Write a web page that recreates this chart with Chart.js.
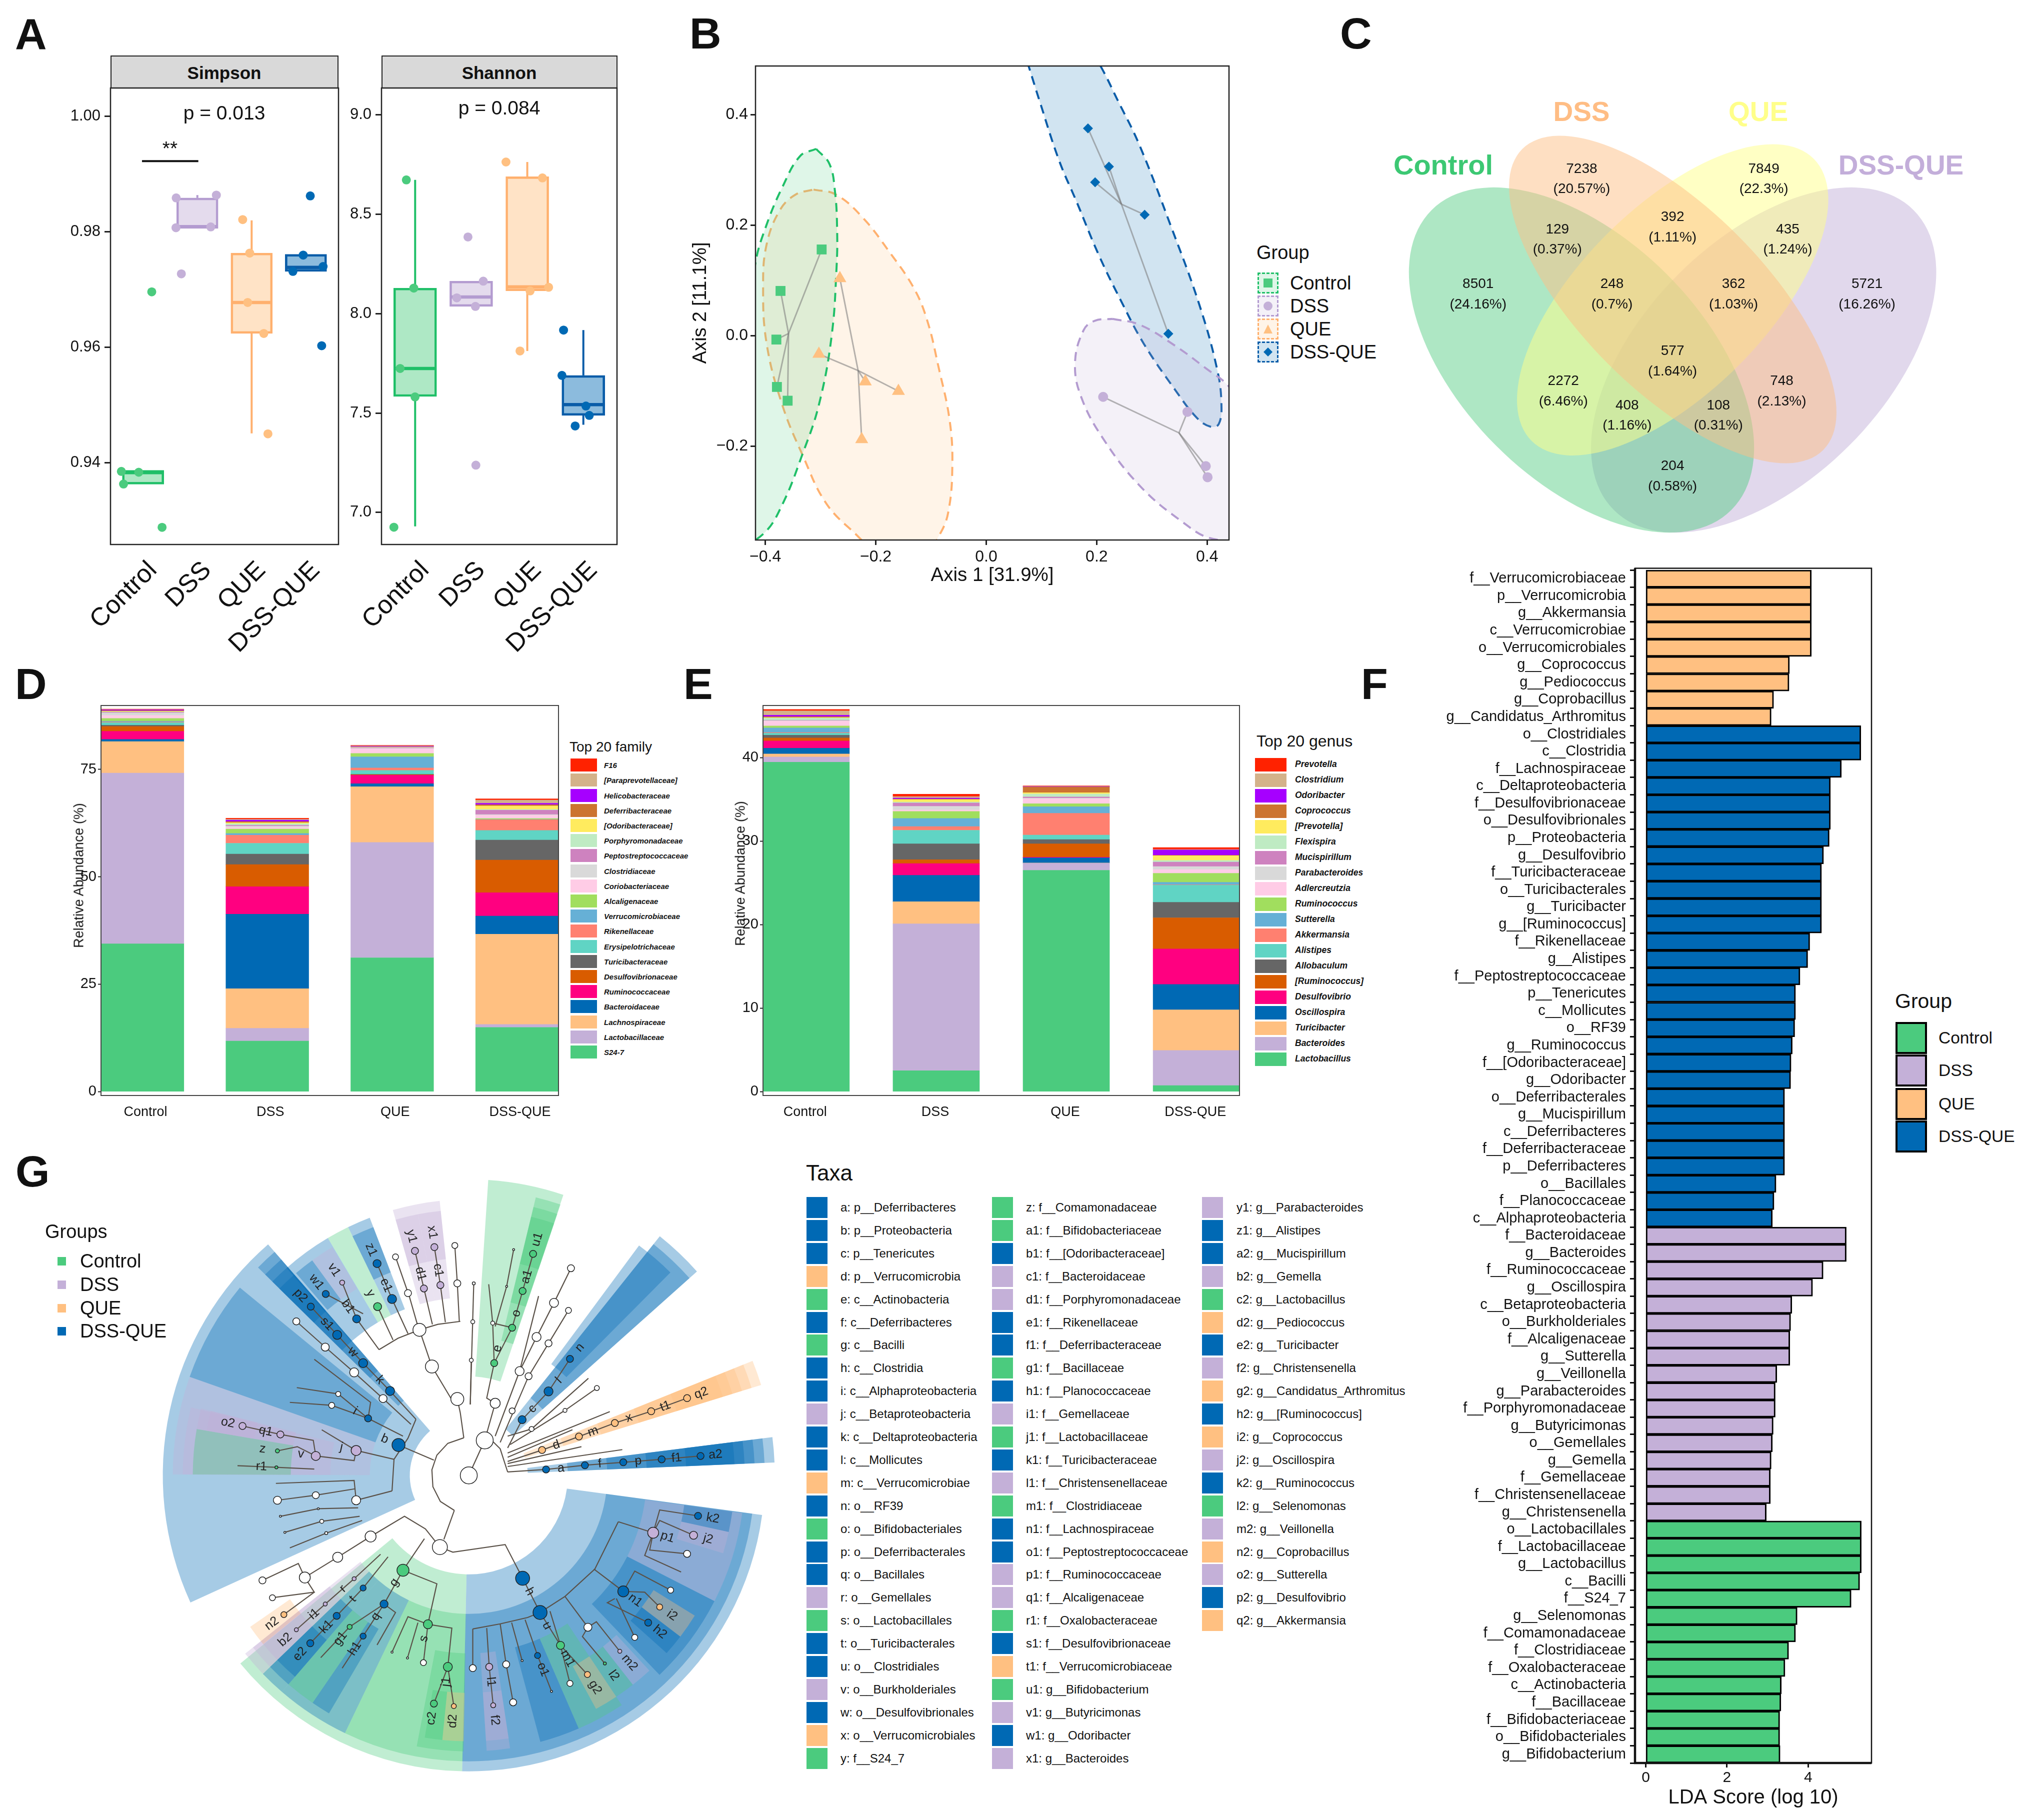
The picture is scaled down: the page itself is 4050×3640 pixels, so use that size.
<!DOCTYPE html>
<html>
<head>
<meta charset="utf-8">
<title>Gut microbiota panels</title>
<script src="https://cdn.jsdelivr.net/npm/chart.js@4"></script>
<style>
html, body { margin: 0; background: #fff; }
#page { position: relative; width: 4050px; height: 3640px; overflow: hidden; font-family: "Liberation Sans", Arial, sans-serif; color: #111; }
canvas { position: absolute; }
.t { position: absolute; white-space: pre; line-height: 1; }
.k { position: absolute; box-sizing: border-box; }
</style>
</head>
<body>
<div id="page"></div>
<script>
const groups = ['Control', 'DSS', 'QUE', 'DSS-QUE'];
const groupColors = ['#4BCB7E', '#C4B0D8', '#FFC081', '#0069B4'];
const groupEdges = ['#1FBF68', '#B39BD0', '#FFB06E', '#0A5CA8'];

// Panel A
const simpsonTicks = [0.94, 0.96, 0.98, 1.00];
const simpsonQ1 = [0.9363, 0.98057, 0.9624, 0.97314];
const simpsonQ3 = [0.9387, 0.98587, 0.97632, 0.97611];
const simpsonMedian = [0.9383, 0.9809, 0.96777, 0.97385];
const simpsonLow = [null, null, 0.94509, null];
const simpsonHigh = [null, 0.98636, 0.98198, null];
const simpsonX = [[0.6, 0.92, 0.64, 1.35, 1.16], [1.61, 2.35, 1.606, 2.247, 1.705], [2.835, 2.965, 2.927, 3.224, 3.3], [4.08, 3.95, 4.316, 3.76, 4.29]];
const simpsonY = [[0.93852, 0.93837, 0.93633, 0.92883, 0.96961], [0.98587, 0.98636, 0.98071, 0.98085, 0.97272], [0.98212, 0.97632, 0.96777, 0.9624, 0.94502], [0.98622, 0.97597, 0.97399, 0.97314, 0.96028]];
const shannonTicks = [7.0, 7.5, 8.0, 8.5, 9.0];
const shannonQ1 = [7.583, 8.036, 8.114, 7.488];
const shannonQ3 = [8.128, 8.163, 8.688, 7.689];
const shannonMedian = [7.724, 8.083, 8.134, 7.542];
const shannonLow = [6.93, null, 7.812, 7.441];
const shannonHigh = [8.672, null, 8.762, 7.917];
const shannonX = [[0.843, 0.976, 0.732, 0.998, 0.621], [1.942, 2.215, 1.743, 2.075, 2.083], [2.62, 3.27, 3.38, 3.05, 2.87], [3.647, 3.618, 4.046, 4.105, 3.854]];
const shannonY = [[8.672, 8.128, 7.724, 7.581, 6.926], [8.385, 8.163, 8.079, 8.036, 7.238], [8.762, 8.682, 8.132, 8.114, 7.812], [7.917, 7.689, 7.535, 7.488, 7.435]];

// Panel B
const pcoaX = [[-0.298, -0.3725, -0.38, -0.379, -0.3596], [0.2117, 0.3644, 0.3976, 0.4008], [-0.265, -0.303, -0.219, -0.159, -0.2255], [0.1842, 0.2222, 0.1972, 0.2869, 0.3297]];
const pcoaY = [[0.156, 0.081, -0.007, -0.0927, -0.1176], [-0.1107, -0.1377, -0.236, -0.256], [0.1038, -0.0332, -0.083, -0.1003, -0.1875], [0.3751, 0.3059, 0.2775, 0.2187, 0.0035]];
const pcoaCenterX = [-0.358, 0.349, -0.232, 0.2448];
const pcoaCenterY = [0.004, -0.1758, -0.063, 0.238];
const ringControlX = [-0.308, -0.284, -0.274, -0.27, -0.271, -0.28, -0.303, -0.333, -0.369, -0.403, -0.442, -0.462, -0.458, -0.418, -0.398, -0.369, -0.337, -0.308];
const ringControlY = [0.338, 0.311, 0.262, 0.193, 0.124, -0.001, -0.125, -0.215, -0.305, -0.358, -0.374, -0.326, -0.153, 0.131, 0.2, 0.269, 0.325, 0.338];
const ringQueX = [-0.3127, -0.2723, -0.2238, -0.1754, -0.1309, -0.1067, -0.0865, -0.0663, -0.0614, -0.0687, -0.0848, -0.1269, -0.1834, -0.2279, -0.2885, -0.3329, -0.3693, -0.3976, -0.404, -0.3976, -0.3733, -0.345, -0.3127];
const ringQueY = [0.2644, 0.2554, 0.2138, 0.1516, 0.0858, 0.027, -0.0561, -0.1529, -0.236, -0.319, -0.3606, -0.4228, -0.4159, -0.3675, -0.3052, -0.2152, -0.1253, -0.0145, 0.0893, 0.1654, 0.2277, 0.2554, 0.2644];
const ringDssQueX = [0.0776, 0.059, 0.0752, 0.1236, 0.1721, 0.2085, 0.2368, 0.2772, 0.3337, 0.3863, 0.4186, 0.4259, 0.421, 0.4065, 0.3822, 0.3418, 0.2853, 0.2448, 0.2044, 0.164, 0.1317, 0.0954, 0.0776];
const ringDssQueY = [0.4851, 0.546, 0.5875, 0.5945, 0.546, 0.4851, 0.4284, 0.3453, 0.2, 0.0547, -0.063, -0.1253, -0.1599, -0.1647, -0.1495, -0.0976, -0.0145, 0.0616, 0.1446, 0.2415, 0.3176, 0.4284, 0.4851];
const ringDssX = [0.2287, 0.2772, 0.3418, 0.3984, 0.4396, 0.4792, 0.4954, 0.4792, 0.4105, 0.3499, 0.2772, 0.2125, 0.1721, 0.1608, 0.1762, 0.1964, 0.2287];
const ringDssY = [0.0304, 0.0201, -0.018, -0.0595, -0.092, -0.1529, -0.2637, -0.3606, -0.3675, -0.3329, -0.2706, -0.1875, -0.1114, -0.0491, 0.0097, 0.027, 0.0304];

// Panel C
const vennCounts = ['7238', '7849', '392', '129', '435', '8501', '248', '362', '5721', '577', '2272', '748', '408', '108', '204'];
const vennPercents = ['(20.57%)', '(22.3%)', '(1.11%)', '(0.37%)', '(1.24%)', '(24.16%)', '(0.7%)', '(1.03%)', '(16.26%)', '(1.64%)', '(6.46%)', '(2.13%)', '(1.16%)', '(0.31%)', '(0.58%)'];

// Panel D, bottom of the stack first
const familyNames = ['S24-7', 'Lactobacillaceae', 'Lachnospiraceae', 'Bacteroidaceae', 'Ruminococcaceae', 'Desulfovibrionaceae', 'Turicibacteraceae', 'Erysipelotrichaceae', 'Rikenellaceae', 'Verrucomicrobiaceae', 'Alcaligenaceae', 'Coriobacteriaceae', 'Clostridiaceae', 'Peptostreptococcaceae', 'Porphyromonadaceae', '[Odoribacteraceae]', 'Deferribacteraceae', 'Helicobacteraceae', '[Paraprevotellaceae]', 'F16'];
const familyControl = [34.4, 39.75, 7.33, 0.49, 1.9, 1.13, 0.28, 0.63, 0.15, 0.15, 0.65, 0.7, 0.6, 0.15, 0.1, 0.1, 0.15, 0.2, 0.1, 0.1];
const familyDss = [11.77, 2.96, 9.23, 17.34, 6.4, 5.15, 2.45, 2.5, 1.9, 0.4, 1.0, 0.4, 0.3, 0.2, 0.35, 0.25, 0.25, 0.35, 0.2, 0.24];
const familyQue = [31.15, 26.85, 12.97, 0.7, 1.97, 0.14, 0.07, 0.92, 0.56, 2.61, 0.78, 1.06, 0.14, 0.14, 0.07, 0.07, 0.07, 0.14, 0.07, 0.14];
const familyDssQue = [14.94, 0.7, 21.01, 4.22, 5.43, 7.6, 4.66, 2.24, 2.48, 0.07, 0.21, 0.78, 0.14, 1.02, 0.18, 0.82, 0.3, 0.3, 0.76, 0.29];
const stackColors = ['#4BCB7E', '#C4B0D8', '#FFC081', '#0069B4', '#FF0080', '#D95C00', '#666666', '#60D4C4', '#FF8070', '#66B0D6', '#A1DE5E', '#FFCCE6', '#D9D9D9', '#CE82BF', '#BFEBC3', '#FFEB5E', '#CC7430', '#A600FF', '#D4B28A', '#FF2200'];

// Panel E, bottom of the stack first
const genusNames = ['Lactobacillus', 'Bacteroides', 'Turicibacter', 'Oscillospira', 'Desulfovibrio', '[Ruminococcus]', 'Allobaculum', 'Alistipes', 'Akkermansia', 'Sutterella', 'Ruminococcus', 'Adlercreutzia', 'Parabacteroides', 'Mucispirillum', 'Flexispira', '[Prevotella]', 'Coprococcus', 'Odoribacter', 'Clostridium', 'Prevotella'];
const genusControl = [39.46, 0.62, 0.36, 0.69, 0.87, 0.36, 0.33, 0.24, 0.07, 0.56, 0.24, 0.56, 0.06, 0.05, 0.29, 0.04, 0.1, 0.18, 0.52, 0.17];
const genusDss = [2.5, 17.59, 2.65, 3.16, 1.41, 0.47, 1.89, 1.63, 0.44, 0.98, 0.83, 0.18, 0.44, 0.4, 0.11, 0.29, 0.07, 0.11, 0.18, 0.29];
const genusQue = [26.51, 0.84, 0.03, 0.62, 0.07, 1.6, 0.51, 0.54, 2.61, 0.8, 0.36, 0.58, 0.07, 0.15, 0.36, 0.15, 0.69, 0.04, 0.04, 0.06];
const genusDssQue = [0.73, 4.2, 4.86, 3.05, 4.24, 3.74, 1.85, 2.07, 0.04, 0.28, 1.09, 0.44, 0.36, 0.54, 0.19, 0.58, 0.04, 0.64, 0.06, 0.23];

// Panel F
const ldaLabels = ['f__Verrucomicrobiaceae', 'p__Verrucomicrobia', 'g__Akkermansia', 'c__Verrucomicrobiae', 'o__Verrucomicrobiales', 'g__Coprococcus', 'g__Pediococcus', 'g__Coprobacillus', 'g__Candidatus_Arthromitus',
  'o__Clostridiales', 'c__Clostridia', 'f__Lachnospiraceae', 'c__Deltaproteobacteria', 'f__Desulfovibrionaceae', 'o__Desulfovibrionales', 'p__Proteobacteria', 'g__Desulfovibrio', 'f__Turicibacteraceae', 'o__Turicibacterales', 'g__Turicibacter', 'g__[Ruminococcus]', 'f__Rikenellaceae', 'g__Alistipes', 'f__Peptostreptococcaceae', 'p__Tenericutes', 'c__Mollicutes', 'o__RF39', 'g__Ruminococcus', 'f__[Odoribacteraceae]', 'g__Odoribacter', 'o__Deferribacterales', 'g__Mucispirillum', 'c__Deferribacteres', 'f__Deferribacteraceae', 'p__Deferribacteres', 'o__Bacillales', 'f__Planococcaceae', 'c__Alphaproteobacteria',
  'f__Bacteroidaceae', 'g__Bacteroides', 'f__Ruminococcaceae', 'g__Oscillospira', 'c__Betaproteobacteria', 'o__Burkholderiales', 'f__Alcaligenaceae', 'g__Sutterella', 'g__Veillonella', 'g__Parabacteroides', 'f__Porphyromonadaceae', 'g__Butyricimonas', 'o__Gemellales', 'g__Gemella', 'f__Gemellaceae', 'f__Christensenellaceae', 'g__Christensenella',
  'o__Lactobacillales', 'f__Lactobacillaceae', 'g__Lactobacillus', 'c__Bacilli', 'f__S24_7', 'g__Selenomonas', 'f__Comamonadaceae', 'f__Clostridiaceae', 'f__Oxalobacteraceae', 'c__Actinobacteria', 'f__Bacillaceae', 'f__Bifidobacteriaceae', 'o__Bifidobacteriales', 'g__Bifidobacterium'];
const ldaScores = [4.08, 4.08, 4.08, 4.08, 4.08, 3.54, 3.53, 3.15, 3.09,
  5.30, 5.30, 4.82, 4.55, 4.55, 4.55, 4.52, 4.38, 4.33, 4.33, 4.33, 4.33, 4.04, 3.99, 3.80, 3.69, 3.69, 3.67, 3.61, 3.58, 3.57, 3.42, 3.42, 3.42, 3.42, 3.42, 3.21, 3.16, 3.12,
  4.94, 4.94, 4.37, 4.11, 3.60, 3.57, 3.55, 3.55, 3.23, 3.19, 3.19, 3.14, 3.12, 3.09, 3.07, 3.07, 2.97,
  5.31, 5.31, 5.31, 5.27, 5.06, 3.73, 3.69, 3.52, 3.43, 3.34, 3.33, 3.30, 3.30, 3.31];
const ldaGroupSizes = [9, 29, 17, 14];
const ldaGroupOrder = [2, 3, 1, 0];

// Panel G, tree: label, x, y, radius, group (-1 = unmarked)
const cladeNodes = [
  ['a', 1077, 759, 7, 3], ['f', 1155, 749, 7, 3], ['p', 1232, 742, 7, 3], ['f1', 1309, 735, 7, 3], ['a2', 1387, 727, 7, 3],
  ['d', 1069, 713, 7, 2], ['m', 1143, 681, 7, 2], ['x', 1215, 649, 7, 2], ['t1', 1288, 621, 7, 2], ['q2', 1360, 590, 7, 2],
  ['c', 1029, 641, 8, 3], ['l', 1082, 574, 9, 3], ['n', 1125, 497, 7, 3],
  ['e', 973, 507, 7, 0], ['o', 1009, 423, 7, 0], ['a1', 1030, 336, 7, 0], ['u1', 1051, 248, 7, 0],
  ['z1', 738, 271, 8, 3], ['e1', 768, 355, 9, 3], ['y', 739, 373, 8, 0], ['v1', 668, 316, 5, 1], ['b1', 697, 402, 8, 3], ['w1', 635, 343, 7, 3],
  ['k', 764, 573, 9, 3], ['w', 710, 507, 9, 3], ['s1', 658, 440, 9, 3], ['p2', 605, 373, 7, 3],
  ['y1', 814, 241, 7, 1], ['x1', 853, 232, 7, 1], ['d1', 832, 330, 7, 1], ['c1', 865, 322, 7, 1],
  ['b', 781, 701, 13, 3], ['j', 696, 714, 10, 1], ['v', 615, 727, 9, 1], ['q1', 544, 676, 7, 1], ['o2', 468, 656, 7, 1], ['z', 538, 715, 4, 0], ['r1', 536, 754, 3, 0], ['i', 720, 638, 7, 3],
  ['h', 1030, 1017, 14, 3], ['u', 1065, 1098, 14, 3], ['n1', 1232, 1048, 11, 3], ['p1', 1292, 909, 11, 1], ['k2', 1382, 869, 7, 3], ['j2', 1373, 915, 8, 1], ['i2', 1305, 1085, 6, 2], ['h2', 1282, 1122, 7, 3],
  ['m2', 1225, 1190, 4, 1], ['l2', 1195, 1219, 3, 0], ['g2', 1160, 1245, 6, 2], ['m1', 1106, 1176, 8, 0], ['o1', 1060, 1200, 6, 3], ['l1', 963, 1227, 7, 1], ['f2', 971, 1318, 5, 1],
  ['g', 790, 998, 12, 0], ['s', 840, 1126, 9, 0], ['j1', 880, 1227, 9, 0], ['c2', 852, 1314, 7, 0], ['d2', 892, 1320, 5, 2],
  ['q', 752, 1078, 8, 3], ['h1', 710, 1154, 6, 3], ['g1', 683, 1132, 5, 0], ['t', 710, 1040, 6, 3], ['k1', 657, 1106, 7, 3], ['e2', 604, 1171, 7, 3], ['r', 692, 1018, 4, 1], ['i1', 634, 1078, 4, 1], ['b2', 576, 1139, 4, 1], ['n2', 551, 1103, 6, 2],
  ['', 922, 773, 17, -1], ['', 954, 690, 17, -1], ['', 899, 592, 13, -1], ['', 848, 515, 13, -1], ['', 823, 428, 13, -1], ['', 975, 602, 10, -1], ['', 1009, 620, 6, -1], ['', 1024, 526, 9, -1], ['', 1042, 538, 7, -1], ['', 1058, 445, 9, -1], ['', 1082, 460, 7, -1], ['', 1093, 364, 9, -1], ['', 1122, 382, 6, -1], ['', 1127, 282, 7, -1], ['', 1048, 663, 5, -1], ['', 1115, 619, 4, -1], ['', 1179, 566, 5, -1],
  ['', 930, 409, 4, -1], ['', 932, 318, 3, -1], ['', 927, 500, 4, -1], ['', 970, 412, 4, -1], ['', 998, 325, 2, -1], ['', 1012, 238, 2, -1], ['', 899, 318, 7, -1], ['', 894, 228, 6, -1], ['', 800, 341, 7, -1], ['', 775, 255, 6, -1],
  ['', 576, 408, 7, -1], ['', 634, 469, 8, -1], ['', 692, 529, 9, -1], ['', 750, 591, 8, -1], ['', 660, 580, 5, -1], ['', 647, 607, 6, -1], ['', 696, 832, 9, -1], ['', 615, 820, 7, -1], ['', 538, 832, 8, -1], ['', 620, 852, 2, -1], ['', 544, 870, 2, -1], ['', 627, 882, 4, -1], ['', 553, 908, 2, -1], ['', 636, 910, 3, -1],
  ['', 864, 943, 15, -1], ['', 725, 918, 11, -1], ['', 659, 967, 10, -1], ['', 593, 1015, 11, -1], ['', 508, 1022, 7, -1], ['', 528, 1063, 6, -1],
  ['', 1161, 1133, 8, -1], ['', 1255, 1157, 6, -1], ['', 1327, 1045, 6, -1], ['', 1360, 959, 7, -1], ['', 1125, 1266, 6, -1], ['', 1088, 1285, 2, -1], ['', 1011, 1311, 7, -1], ['', 997, 1221, 7, -1], ['', 930, 1230, 7, -1], ['', 1029, 1212, 2, -1], ['', 831, 1217, 6, -1], ['', 799, 1206, 2, -1], ['', 768, 1192, 2, -1]
];
const cladeEdges = [
  [[922, 773], [954, 690]], [[912, 684], [880, 697], [858, 725], [848, 760], [850, 800], [865, 835], [893, 856]], [[912, 684], [905, 625], [899, 592]], [[893, 856], [872, 925]], [[852, 737], [781, 701]],
  [[887, 592], [848, 515], [823, 428]], [[742, 475], [780, 448], [823, 428], [860, 415], [905, 408]], [[742, 475], [697, 402], [668, 316]], [[710, 390], [635, 343]], [[770, 452], [739, 373]], [[800, 437], [768, 355], [738, 271]], [[775, 255], [803, 350], [820, 420]],
  [[849, 415], [832, 330], [814, 241]], [[875, 410], [865, 322], [853, 232]], [[903, 408], [899, 318], [894, 228]], [[925, 605], [932, 318]], [[925, 605], [927, 500]],
  [[954, 690], [975, 602], [958, 590], [973, 507], [970, 412], [962, 320]], [[970, 412], [1009, 423]], [[973, 507], [1009, 423], [1030, 336], [1051, 248]], [[975, 420], [998, 325], [1012, 238]],
  [[975, 680], [1024, 526], [1058, 445], [1093, 364], [1127, 282]], [[1024, 526], [1062, 348]], [[985, 695], [1042, 538], [1082, 460], [1122, 382]], [[1000, 708], [1029, 641], [1082, 574], [1125, 497]], [[1000, 680], [1048, 663], [1162, 543]], [[1005, 700], [1115, 619], [1179, 566]], [[1000, 720], [1205, 622]], [[1000, 730], [1130, 665]], [[1000, 745], [1148, 705]], [[1000, 752], [1230, 712]],
  [[1000, 740], [1069, 713], [1143, 681], [1215, 649], [1288, 621], [1360, 590]], [[1000, 765], [1077, 759], [1155, 749], [1232, 742], [1309, 735], [1387, 727]], [[968, 690], [985, 710], [1000, 765]],
  [[816, 640], [800, 685], [772, 735], [768, 810]], [[816, 640], [764, 573], [710, 507], [658, 440], [605, 373]], [[806, 652], [750, 591], [692, 529], [634, 469], [576, 408]], [[790, 680], [720, 638], [725, 600], [612, 498]], [[720, 638], [660, 580], [577, 565]], [[720, 638], [647, 607], [563, 600]],
  [[772, 735], [696, 714]], [[696, 714], [627, 665]], [[696, 714], [692, 738], [615, 727]], [[615, 727], [610, 690], [544, 676], [468, 656]], [[615, 727], [578, 705], [538, 715]], [[612, 758], [536, 754], [458, 750]],
  [[768, 810], [696, 832], [692, 785], [535, 792]], [[693, 805], [615, 820], [538, 832]], [[700, 850], [620, 852], [544, 870]], [[703, 870], [627, 882], [553, 908]], [[708, 880], [636, 910], [563, 945]],
  [[864, 943], [835, 900], [793, 870], [725, 918], [659, 967], [593, 1015]], [[593, 1015], [580, 982], [508, 1022]], [[593, 1015], [612, 1050], [528, 1063]], [[612, 1050], [551, 1103]],
  [[833, 923], [790, 998], [752, 1078], [710, 1154], [668, 1230]], [[790, 998], [858, 1030], [840, 1126]], [[752, 1078], [775, 1098], [738, 1175]], [[752, 1078], [683, 1132], [625, 1205]], [[760, 966], [710, 1040], [657, 1106], [604, 1171]], [[745, 960], [692, 1018], [634, 1078], [576, 1139]],
  [[840, 1126], [800, 1108], [768, 1192]], [[820, 1122], [799, 1206]], [[840, 1126], [831, 1217]], [[840, 1126], [888, 1135], [880, 1227]], [[880, 1227], [852, 1314]], [[880, 1227], [892, 1320]],
  [[864, 943], [890, 955], [995, 937], [1030, 1017], [1065, 1098]], [[930, 1137], [985, 1125], [1040, 1110], [1065, 1098], [1115, 1060], [1175, 995], [1222, 883]],
  [[930, 1137], [930, 1230]], [[958, 1135], [963, 1227], [971, 1318]], [[985, 1125], [997, 1221], [1011, 1311]], [[1008, 1122], [1029, 1212]], [[1035, 1115], [1060, 1200], [1088, 1285]], [[1065, 1098], [1106, 1176], [1125, 1266]], [[1085, 1095], [1106, 1176], [1160, 1245]],
  [[1115, 1060], [1161, 1133]], [[1161, 1133], [1150, 1155], [1195, 1219]], [[1161, 1133], [1178, 1120], [1225, 1190]], [[1173, 995], [1232, 1048]], [[1232, 1048], [1255, 1000], [1327, 1045]], [[1232, 1048], [1275, 1050], [1305, 1085]], [[1218, 1065], [1255, 1157]], [[1215, 1065], [1200, 1075], [1282, 1122]],
  [[1222, 883], [1292, 909]], [[1292, 909], [1305, 855], [1382, 869]], [[1292, 909], [1305, 880], [1373, 915]], [[1292, 909], [1285, 950], [1360, 959]], [[1292, 909], [1275, 963], [1348, 1002]]
];
// shaded sectors: two rim points giving the angles, clade level, group
const cladeSectors = [
  [530, 240, 377, 1067, 1, 3], [1296, 220, 1370, 300, 1, 3], [1478, 508, 1497, 563, 1, 2], [1520, 684, 1524, 743, 1, 3],
  [1498, 865, 909, 1456, 2, 3], [475, 1208, 909, 1456, 2, 0], [960, 92, 1107, 125, 2, 0], [475, 340, 375, 545, 2, 3], [375, 545, 341, 771, 2, 1], [510, 293, 530, 240, 2, 3], [1296, 220, 1370, 300, 2, 3], [1478, 508, 1497, 563, 2, 2], [1520, 684, 1524, 743, 2, 3],
  [1498, 865, 909, 1456, 3, 3], [680, 1368, 910, 1436, 3, 0], [680, 1368, 570, 1255, 3, 3], [570, 1255, 525, 1225, 3, 3], [525, 1225, 490, 1180, 3, 1], [1053, 131, 1102, 145, 3, 0], [1250, 250, 1320, 300, 3, 3], [365, 612, 362, 771, 3, 1], [510, 293, 530, 240, 3, 3], [1478, 508, 1497, 563, 3, 2], [1520, 684, 1524, 743, 3, 3],
  [1455, 860, 1405, 1065, 4, 1], [1405, 1065, 1300, 1240, 4, 3], [1218, 1298, 1137, 1358, 4, 0], [1137, 1358, 1060, 1380, 4, 3], [1003, 1405, 957, 1410, 4, 1], [820, 1400, 912, 1415, 4, 0], [570, 1255, 617, 1298, 4, 0], [617, 1298, 650, 1320, 4, 3], [570, 1255, 525, 1225, 4, 3], [525, 1225, 490, 1180, 4, 1],
  [1053, 131, 1102, 145, 4, 0], [687, 202, 729, 180, 4, 3], [648, 228, 687, 202, 4, 0], [570, 300, 648, 228, 4, 3], [773, 158, 819, 148, 4, 1], [819, 148, 865, 138, 4, 1], [385, 665, 380, 771, 4, 0], [370, 610, 385, 665, 4, 1], [510, 293, 530, 240, 4, 3], [1478, 508, 1497, 563, 4, 2], [1520, 684, 1524, 743, 4, 3],
  [1443, 858, 1435, 905, 5, 3], [1435, 905, 1425, 955, 5, 1], [1365, 1098, 1335, 1145, 5, 2], [1335, 1145, 1310, 1185, 5, 3], [1280, 1230, 1245, 1260, 5, 1], [1245, 1260, 1218, 1298, 5, 0], [1218, 1298, 1172, 1315, 5, 2], [1003, 1405, 957, 1410, 5, 1], [835, 1385, 870, 1388, 5, 0], [870, 1388, 912, 1388, 5, 2], [570, 1255, 525, 1225, 5, 3], [525, 1225, 490, 1180, 5, 1], [492, 1125, 518, 1165, 5, 2],
  [1053, 131, 1102, 145, 5, 0], [687, 202, 729, 180, 5, 3], [612, 270, 650, 235, 5, 1], [580, 300, 612, 270, 5, 3], [773, 158, 819, 148, 5, 1], [819, 148, 865, 138, 5, 1], [370, 610, 385, 665, 5, 1], [510, 293, 530, 240, 5, 3], [1478, 508, 1497, 563, 5, 2], [1520, 684, 1524, 743, 5, 3]
];
const taxaLabels = [
  ['a: p__Deferribacteres', 'b: p__Proteobacteria', 'c: p__Tenericutes', 'd: p__Verrucomicrobia', 'e: c__Actinobacteria', 'f: c__Deferribacteres', 'g: c__Bacilli', 'h: c__Clostridia', 'i: c__Alphaproteobacteria', 'j: c__Betaproteobacteria', 'k: c__Deltaproteobacteria', 'l: c__Mollicutes', 'm: c__Verrucomicrobiae', 'n: o__RF39', 'o: o__Bifidobacteriales', 'p: o__Deferribacterales', 'q: o__Bacillales', 'r: o__Gemellales', 's: o__Lactobacillales', 't: o__Turicibacterales', 'u: o__Clostridiales', 'v: o__Burkholderiales', 'w: o__Desulfovibrionales', 'x: o__Verrucomicrobiales', 'y: f__S24_7'],
  ['z: f__Comamonadaceae', 'a1: f__Bifidobacteriaceae', 'b1: f__[Odoribacteraceae]', 'c1: f__Bacteroidaceae', 'd1: f__Porphyromonadaceae', 'e1: f__Rikenellaceae', 'f1: f__Deferribacteraceae', 'g1: f__Bacillaceae', 'h1: f__Planococcaceae', 'i1: f__Gemellaceae', 'j1: f__Lactobacillaceae', 'k1: f__Turicibacteraceae', 'l1: f__Christensenellaceae', 'm1: f__Clostridiaceae', 'n1: f__Lachnospiraceae', 'o1: f__Peptostreptococcaceae', 'p1: f__Ruminococcaceae', 'q1: f__Alcaligenaceae', 'r1: f__Oxalobacteraceae', 's1: f__Desulfovibrionaceae', 't1: f__Verrucomicrobiaceae', 'u1: g__Bifidobacterium', 'v1: g__Butyricimonas', 'w1: g__Odoribacter', 'x1: g__Bacteroides'],
  ['y1: g__Parabacteroides', 'z1: g__Alistipes', 'a2: g__Mucispirillum', 'b2: g__Gemella', 'c2: g__Lactobacillus', 'd2: g__Pediococcus', 'e2: g__Turicibacter', 'f2: g__Christensenella', 'g2: g__Candidatus_Arthromitus', 'h2: g__[Ruminococcus]', 'i2: g__Coprococcus', 'j2: g__Oscillospira', 'k2: g__Ruminococcus', 'l2: g__Selenomonas', 'm2: g__Veillonella', 'n2: g__Coprobacillus', 'o2: g__Sutterella', 'p2: g__Desulfovibrio', 'q2: g__Akkermansia']
];
const taxaGroups = [
  [3, 3, 3, 2, 0, 3, 0, 3, 3, 1, 3, 3, 2, 3, 0, 3, 3, 1, 0, 3, 3, 1, 3, 2, 0],
  [0, 0, 3, 1, 1, 3, 3, 0, 3, 1, 0, 3, 1, 0, 3, 3, 1, 1, 0, 3, 2, 0, 1, 3, 1],
  [1, 3, 3, 1, 0, 2, 3, 1, 2, 3, 2, 1, 3, 0, 1, 2, 1, 3, 2]
];

const page = document.getElementById('page');
Chart.defaults.font.family = '"Liberation Sans", Arial, sans-serif';
Chart.defaults.color = '#111';
Chart.defaults.animation = false;
Chart.defaults.responsive = false;
Chart.defaults.plugins.legend.display = false;
Chart.defaults.plugins.tooltip.enabled = false;

function rgba(hex, a) {
  const n = parseInt(hex.slice(1), 16);
  return `rgba(${n >> 16},${(n >> 8) & 255},${n & 255},${a})`;
}

function txt(x, y, s, o = {}) {
  const el = document.createElement('span');
  el.className = 't';
  el.textContent = s;
  el.style.left = x + 'px';
  el.style.top = y + 'px';
  el.style.fontSize = (o.size || 30) + 'px';
  if (o.bold) el.style.fontWeight = 'bold';
  if (o.italic) el.style.fontStyle = 'italic';
  if (o.color) el.style.color = o.color;
  const dx = o.align === 'left' ? '0' : '-50%';
  el.style.transform = `translate(${dx},-50%)` + (o.rotate ? ` rotate(${o.rotate}deg)` : '');
  page.appendChild(el);
}

function key(x, y, w, h, css, parent) {
  const el = document.createElement('div');
  el.className = 'k';
  el.style.left = x + 'px';
  el.style.top = y + 'px';
  el.style.width = w + 'px';
  el.style.height = h + 'px';
  Object.assign(el.style, css);
  (parent || page).appendChild(el);
  return el;
}

const frame = {
  id: 'frame',
  afterDatasetsDraw(chart, args, opts) {
    const { left, top, right, bottom } = chart.chartArea;
    const ex = opts.ex || 0;
    const ctx = chart.ctx;
    ctx.save();
    ctx.strokeStyle = opts.color || '#222';
    ctx.lineWidth = opts.width || 3;
    ctx.strokeRect(left, top - ex, right - left, bottom - top + ex);
    if (opts.thick) {
      ctx.lineWidth = opts.thick;
      ctx.beginPath();
      ctx.moveTo(left, top - ex);
      ctx.lineTo(left, bottom);
      ctx.lineTo(right, bottom);
      ctx.stroke();
    }
    ctx.restore();
  }
};

function noScalePadding(s) {
  s.paddingTop = 0;
  s.paddingBottom = 0;
  s.paddingLeft = 0;
  s.paddingRight = 0;
}

// chart whose plot area lands exactly on box, with fixed margins round it
function plotChart(box, m, config) {
  const c = document.createElement('canvas');
  c.width = box.r - box.l + m.left + m.right;
  c.height = box.b - box.t + m.top + m.bottom;
  c.style.left = (box.l - m.left) + 'px';
  c.style.top = (box.t - m.top) + 'px';
  page.appendChild(c);
  config.options.layout = { autoPadding: false, padding: { top: m.top, right: m.right, left: 0, bottom: 0 } };
  config.options.scales.x.afterFit = s => { s.height = m.bottom; noScalePadding(s); };
  config.options.scales.y.afterFit = s => { s.width = m.left; noScalePadding(s); };
  config.plugins = (config.plugins || []).concat(frame);
  return new Chart(c, config);
}

function fixedTicks(values) {
  return s => { s.ticks = values.map(v => ({ value: v })); };
}

function boxChart(box, m, yRange, ticks, q1, q3, med, low, high, px, py, barWidth, extra) {
  const datasets = [];
  groups.forEach((g, i) => {
    datasets.push({ type: 'line', showLine: false, order: 1, pointRadius: 9, pointBorderWidth: 0, pointBackgroundColor: groupColors[i],
      data: px[i].map((x, j) => ({ x, y: py[i][j] })) });
    datasets.push({ type: 'line', order: 2, borderColor: groupEdges[i], borderWidth: 6.5, pointRadius: 0,
      data: [{ x: i + 1 - 0.38, y: med[i] }, { x: i + 1 + 0.38, y: med[i] }] });
    if (high[i] !== null) datasets.push({ type: 'line', order: 4, borderColor: groupEdges[i], borderWidth: 4, pointRadius: 0, data: [{ x: i + 1, y: q3[i] }, { x: i + 1, y: high[i] }] });
    if (low[i] !== null) datasets.push({ type: 'line', order: 4, borderColor: groupEdges[i], borderWidth: 4, pointRadius: 0, data: [{ x: i + 1, y: q1[i] }, { x: i + 1, y: low[i] }] });
  });
  datasets.push({ type: 'bar', order: 3, data: q1.map((v, i) => [v, q3[i]]), barThickness: barWidth, borderWidth: 4, borderSkipped: false,
    backgroundColor: groupColors.map(c => rgba(c, 0.45)), borderColor: groupEdges });
  if (extra) datasets.push(extra);
  return plotChart(box, m, {
    type: 'bar',
    data: { labels: [1, 2, 3, 4], datasets },
    options: {
      plugins: { frame: { width: 2.5 } },
      scales: {
        x: { type: 'linear', offset: false, min: 0.4, max: 4.6, afterBuildTicks: fixedTicks([1, 2, 3, 4]), grid: { display: false }, border: { display: false },
          ticks: { callback: v => groups[v - 1], font: { size: 51 }, minRotation: 45, maxRotation: 45, autoSkip: false, padding: 14, labelOffset: 20, color: '#111' } },
        y: { min: yRange[0], max: yRange[1], afterBuildTicks: fixedTicks(ticks),
          grid: { drawOnChartArea: false, tickLength: 12, tickWidth: 3, tickColor: '#222' }, border: { display: false },
          ticks: { font: { size: 31 }, padding: 8, callback: v => v.toFixed(ticks === simpsonTicks ? 2 : 1) } }
      }
    }
  });
}

// Panel A
key(220.5, 111, 456, 66, { background: '#D9D9D9', border: '2.5px solid #222' });
key(763, 111, 471.5, 66, { background: '#D9D9D9', border: '2.5px solid #222' });
boxChart({ l: 220.5, t: 176, r: 676.5, b: 1089 }, { left: 80, right: 20, top: 2, bottom: 240 }, [0.92586, 1.0049], simpsonTicks,
  simpsonQ1, simpsonQ3, simpsonMedian, simpsonLow, simpsonHigh, simpsonX, simpsonY, 83,
  { type: 'line', order: 0, borderColor: '#111', borderWidth: 4, pointRadius: 0, data: [{ x: 0.98, y: 0.99223 }, { x: 2.018, y: 0.99223 }] });
boxChart({ l: 763, t: 176, r: 1234.5, b: 1089 }, { left: 70, right: 20, top: 2, bottom: 240 }, [6.839, 9.134], shannonTicks,
  shannonQ1, shannonQ3, shannonMedian, shannonLow, shannonHigh, shannonX, shannonY, 86);
txt(448.5, 145, 'Simpson', { size: 35, bold: true });
txt(998.5, 145, 'Shannon', { size: 35, bold: true });
txt(448.5, 225, 'p = 0.013', { size: 39 });
txt(998.5, 215, 'p = 0.084', { size: 39 });
txt(340, 296, '**', { size: 39 });

// Panel B
const ringSets = [[ringControlX, ringControlY], [ringDssX, ringDssY], [ringQueX, ringQueY], [ringDssQueX, ringDssQueY]];
const pcoaStyles = ['rect', 'circle', 'triangle', 'rectRot'];
const pcoaSizes = [14, 10, 15, 10];
const pcoaData = [];
groups.forEach((g, i) => {
  pcoaData.push({ type: 'line', order: 1, showLine: false, pointStyle: pcoaStyles[i], pointRadius: pcoaSizes[i], pointBorderWidth: 0, pointBackgroundColor: groupColors[i],
    data: pcoaX[i].map((x, j) => ({ x, y: pcoaY[i][j] })) });
  pcoaX[i].forEach((x, j) => {
    pcoaData.push({ type: 'line', order: 2, borderColor: 'rgba(120,120,120,0.55)', borderWidth: 3, pointRadius: 0,
      data: [{ x: pcoaCenterX[i], y: pcoaCenterY[i] }, { x, y: pcoaY[i][j] }] });
  });
  pcoaData.push({ type: 'line', order: 3, fill: 'shape', backgroundColor: rgba(groupColors[i], 0.18), borderColor: groupEdges[i], borderWidth: 4, borderDash: [18, 12], pointRadius: 0, tension: 0.4,
    data: ringSets[i][0].map((x, j) => ({ x, y: ringSets[i][1][j] })) });
});
plotChart({ l: 1510.7, t: 132.4, r: 2458, b: 1081 }, { left: 133, right: 20, top: 5, bottom: 94 }, {
  type: 'line',
  data: { datasets: pcoaData },
  options: {
    plugins: { frame: { width: 2.5 } },
    scales: {
      x: { type: 'linear', min: -0.4178, max: 0.4396, afterBuildTicks: fixedTicks([-0.4, -0.2, 0, 0.2, 0.4]),
        title: { display: true, text: 'Axis 1 [31.9%]', font: { size: 38.5 }, padding: 0 },
        grid: { drawOnChartArea: false, tickLength: 10, tickWidth: 3, tickColor: '#222' }, border: { display: false },
        ticks: { font: { size: 32 }, padding: 5, maxRotation: 0, autoSkip: false, callback: v => v.toFixed(1).replace('-', '\u2212') } },
      y: { type: 'linear', min: -0.3696, max: 0.4879, afterBuildTicks: fixedTicks([-0.2, 0, 0.2, 0.4]),
        title: { display: true, text: 'Axis 2 [11.1%]', font: { size: 38.5 }, padding: 0 },
        grid: { drawOnChartArea: false, tickLength: 10, tickWidth: 3, tickColor: '#222' }, border: { display: false },
        ticks: { font: { size: 32 }, padding: 5, callback: v => v.toFixed(1).replace('-', '\u2212') } }
    }
  }
});
txt(2513, 505, 'Group', { size: 38, align: 'left' });
const pcoaLegendY = [566, 612, 658, 704];
const markerCss = [
  { background: groupColors[0] },
  { background: groupColors[1], borderRadius: '50%' },
  { background: groupColors[2], clipPath: 'polygon(50% 0,100% 100%,0 100%)' },
  { background: groupColors[3], clipPath: 'polygon(50% 0,100% 50%,50% 100%,0 50%)' }
];
groups.forEach((g, i) => {
  const k = key(2515, pcoaLegendY[i] - 21, 42, 42, { background: rgba(groupColors[i], 0.18), border: `3.5px dashed ${groupEdges[i]}` });
  key(9, 9, 18, 18, markerCss[i], k);
  txt(2580, pcoaLegendY[i], g, { size: 38, align: 'left' });
});

// Panel C
const vennShapes = [
  { cx: 3527.3, cy: 720, a: 424, b: 242, rot: -45, color: rgba('#C3B1D9', 0.5) },
  { cx: 3163, cy: 720, a: 424, b: 242, rot: 45, color: rgba('#4BC97C', 0.45) },
  { cx: 3345.3, cy: 599.7, a: 399, b: 186, rot: -45, color: rgba('#FFFF8A', 0.5) },
  { cx: 3345.5, cy: 599, a: 425.6, b: 182.5, rot: 45, color: rgba('#FDBF85', 0.5) }
];
const vennPlugin = {
  id: 'venn',
  beforeDatasetsDraw(chart) {
    const { x, y } = chart.scales;
    const ctx = chart.ctx;
    vennShapes.forEach(s => {
      ctx.beginPath();
      ctx.ellipse(x.getPixelForValue(s.cx), y.getPixelForValue(s.cy), s.a, s.b, s.rot * Math.PI / 180, 0, 2 * Math.PI);
      ctx.fillStyle = s.color;
      ctx.fill();
    });
  }
};
const vennCanvas = document.createElement('canvas');
vennCanvas.width = 1120;
vennCanvas.height = 830;
vennCanvas.style.left = '2780px';
vennCanvas.style.top = '250px';
page.appendChild(vennCanvas);
new Chart(vennCanvas, {
  type: 'scatter',
  data: { datasets: [{ data: [], pointRadius: 0 }] },
  plugins: [vennPlugin],
  options: { layout: { padding: 0 }, scales: { x: { display: false, min: 2780, max: 3900 }, y: { display: false, min: 250, max: 1080, reverse: true } } }
});
const vennLabelX = [456, 913, 684, 395, 973, 196, 532, 837, 1172, 684, 410, 958, 570, 799, 684];
const vennLabelY = [440, 440, 566, 598, 598, 741, 741, 741, 741, 916, 995, 995, 1058, 1058, 1217];
vennCounts.forEach((s, i) => {
  const px = 2800 + vennLabelX[i] * 0.797;
  txt(px, vennLabelY[i] * 0.7653, s, { size: 28 });
  txt(px, (vennLabelY[i] + 53) * 0.7653, vennPercents[i], { size: 28 });
});
txt(2886.5, 330, 'Control', { size: 56, bold: true, color: '#3CC873' });
txt(3163, 223, 'DSS', { size: 55, bold: true, color: '#FFBD84' });
txt(3516.5, 223, 'QUE', { size: 55, bold: true, color: '#FFFF8A' });
txt(3802, 330, 'DSS-QUE', { size: 55, bold: true, color: '#C3AEDA' });

// Panels D and E
function stackChart(box, left, yRange, ticks, series, barWidth, labelShift) {
  const names = series.names;
  return plotChart(box, { left, right: 6, top: 2, bottom: 60 }, {
    type: 'bar',
    data: { labels: [1, 2, 3, 4], datasets: names.map((n, i) => ({ label: n, data: series.values.map(v => v[i]), backgroundColor: stackColors[i], barThickness: barWidth })) },
    options: {
      plugins: { frame: { width: 2, color: '#444' } },
      scales: {
        x: { type: 'linear', offset: false, stacked: true, min: 0.668, max: 4.332, afterBuildTicks: fixedTicks([1, 2, 3, 4]), grid: { display: false }, border: { display: false },
          ticks: { callback: v => groups[v - 1], font: { size: 27 }, padding: 9, maxRotation: 0, autoSkip: false, labelOffset: labelShift, color: '#111' } },
        y: { stacked: true, min: yRange[0], max: yRange[1], afterBuildTicks: fixedTicks(ticks),
          grid: { drawOnChartArea: false, tickLength: 6, tickWidth: 2, tickColor: '#222' }, border: { display: false },
          ticks: { font: { size: 29 }, padding: 3 } }
      }
    }
  });
}
stackChart({ l: 201.5, t: 1411, r: 1116.7, b: 2191 }, 70, [-0.916, 89.87], [0, 25, 50, 75],
  { names: familyNames, values: [familyControl, familyDss, familyQue, familyDssQue] }, 165.7, 6);
stackChart({ l: 1525.6, t: 1411, r: 2478.7, b: 2191 }, 70, [-0.47, 46.24], [0, 10, 20, 30, 40],
  { names: genusNames, values: [genusControl, genusDss, genusQue, genusDssQue] }, 173, -2);
txt(158, 1751, 'Relative Abundance (%)', { size: 27, rotate: -90 });
txt(1481, 1747, 'Relative Abundance (%)', { size: 27, rotate: -90 });
txt(1139, 1494, 'Top 20 family', { size: 28, align: 'left' });
txt(2513, 1482, 'Top 20 genus', { size: 32, align: 'left' });
familyNames.forEach((n, i) => {
  const y = 2104 - i * 30.2;
  key(1141, y - 13, 53, 26, { background: stackColors[i], border: `1.5px solid ${rgba(stackColors[i], 0.85)}` });
  txt(1208, y, n, { size: 15, italic: true, bold: true, align: 'left' });
});
genusNames.forEach((n, i) => {
  const y = 2118 - i * 31;
  key(2510, y - 13.5, 63, 27, { background: stackColors[i], border: `1.5px solid ${rgba(stackColors[i], 0.85)}` });
  txt(2590, y, n, { size: 17.5, italic: true, bold: true, align: 'left' });
});

// Panel F
const ldaColors = [];
ldaGroupSizes.forEach((n, i) => { for (let j = 0; j < n; j++) ldaColors.push(groupColors[ldaGroupOrder[i]]); });
plotChart({ l: 3270, t: 1140, r: 3743, b: 3526 }, { left: 430, right: 6, top: 6, bottom: 94 }, {
  type: 'bar',
  data: { labels: ldaLabels, datasets: [{ data: ldaScores, backgroundColor: ldaColors, borderColor: '#000', borderWidth: 3, borderSkipped: false, barThickness: 34.6 }] },
  options: {
    indexAxis: 'y',
    plugins: { frame: { width: 2.5, color: '#111', thick: 4.5, ex: 3.5 } },
    scales: {
      x: { type: 'linear', offset: false, min: -0.265, max: 5.561, afterBuildTicks: fixedTicks([0, 2, 4]),
        title: { display: true, text: 'LDA Score (log 10)', font: { size: 40 }, padding: 0 },
        grid: { drawOnChartArea: false, tickLength: 9, tickWidth: 3, tickColor: '#111' }, border: { display: false },
        ticks: { font: { size: 30 }, padding: 3, maxRotation: 0 } },
      y: { grid: { drawOnChartArea: false, tickLength: 10, tickWidth: 3, tickColor: '#111' }, border: { display: false },
        ticks: { font: { size: 29 }, padding: 8, autoSkip: false } }
    }
  }
});
txt(3790, 2002, 'Group', { size: 41, align: 'left' });
const ldaLegendY = [2076, 2141, 2207.5, 2273];
groups.forEach((g, i) => {
  key(3791, ldaLegendY[i] - 32, 63, 64, { background: groupColors[i], border: '4px solid #000' });
  txt(3877, ldaLegendY[i], g, { size: 33.5, align: 'left' });
});

// Panel G
const levelInner = [0, 118, 198, 277, 356, 435];
const levelOuter = [0, 612, 592, 572, 552, 532];
const cladeCentre = [922, 773];
const cladePlugin = {
  id: 'clade',
  beforeDatasetsDraw(chart) {
    const { x, y } = chart.scales;
    const ctx = chart.ctx;
    const cx = x.getPixelForValue(cladeCentre[0]);
    const cy = y.getPixelForValue(cladeCentre[1]);
    cladeSectors.forEach(s => {
      let a0 = Math.atan2(y.getPixelForValue(s[1]) - cy, x.getPixelForValue(s[0]) - cx);
      let a1 = Math.atan2(y.getPixelForValue(s[3]) - cy, x.getPixelForValue(s[2]) - cx);
      // always take the short way round
      let d = a1 - a0;
      while (d < -Math.PI) d += 2 * Math.PI;
      while (d > Math.PI) d -= 2 * Math.PI;
      if (d < 0) { a0 = a0 + d; d = -d; }
      ctx.beginPath();
      ctx.arc(cx, cy, levelOuter[s[4]], a0, a0 + d);
      ctx.arc(cx, cy, levelInner[s[4]], a0 + d, a0, true);
      ctx.closePath();
      ctx.fillStyle = rgba(groupColors[s[5]], 0.35);
      ctx.fill();
    });
  },
  afterDatasetsDraw(chart) {
    const { x, y } = chart.scales;
    const ctx = chart.ctx;
    const cx = x.getPixelForValue(cladeCentre[0]);
    const cy = y.getPixelForValue(cladeCentre[1]);
    ctx.save();
    ctx.font = '25px "Liberation Sans"';
    ctx.fillStyle = '#222';
    ctx.textAlign = 'center';
    ctx.textBaseline = 'middle';
    cladeNodes.forEach(n => {
      if (!n[0]) return;
      const px = x.getPixelForValue(n[1]);
      const py = y.getPixelForValue(n[2]);
      const a = Math.atan2(py - cy, px - cx);
      const r = Math.hypot(px - cx, py - cy) + 30;
      ctx.save();
      ctx.translate(cx + r * Math.cos(a), cy + r * Math.sin(a));
      ctx.rotate(Math.cos(a) < 0 ? a + Math.PI : a);
      ctx.fillText(n[0], 0, 0);
      ctx.restore();
    });
    ctx.restore();
  }
};
const cladeCanvas = document.createElement('canvas');
cladeCanvas.width = 1600;
cladeCanvas.height = 1360;
cladeCanvas.style.left = '0px';
cladeCanvas.style.top = '2280px';
page.appendChild(cladeCanvas);
new Chart(cladeCanvas, {
  type: 'scatter',
  data: {
    datasets: [{
      data: cladeNodes.map(n => ({ x: n[1], y: n[2] })),
      pointRadius: cladeNodes.map(n => n[3]),
      pointBackgroundColor: cladeNodes.map(n => n[4] < 0 ? '#fff' : groupColors[n[4]]),
      pointBorderColor: '#222',
      pointBorderWidth: 1.5
    }].concat(cladeEdges.map(e => ({
      showLine: true, borderColor: '#5a5148', borderWidth: 2.2, pointRadius: 0,
      data: e.map(p => ({ x: p[0], y: p[1] }))
    })))
  },
  plugins: [cladePlugin],
  options: { layout: { padding: 0 }, scales: { x: { display: false, min: 0, max: 1568 }, y: { display: false, min: 0, max: 1568, reverse: true } } }
});
txt(90, 2463, 'Groups', { size: 38, align: 'left' });
const cladeLegendY = [2522, 2569, 2616, 2662];
groups.forEach((g, i) => {
  key(115, cladeLegendY[i] - 8.5, 17, 17, { background: groupColors[i] });
  txt(160, cladeLegendY[i], g, { size: 38, align: 'left' });
});

// Taxa key
txt(1612, 2346, 'Taxa', { size: 44, align: 'left' });
const taxaKeyX = [1613, 1984, 2404];
const taxaTextX = [1681, 2052, 2473];
taxaLabels.forEach((col, c) => {
  col.forEach((s, i) => {
    const y = 2415 + i * 45.9;
    key(taxaKeyX[c], y - 21, 42, 42, { background: groupColors[taxaGroups[c][i]] });
    txt(taxaTextX[c], y, s, { size: 24, align: 'left' });
  });
});

// Panel letters
const letters = ['A', 'B', 'C', 'D', 'E', 'F', 'G'];
const letterX = [30, 1379, 2680, 30, 1367, 2722, 31];
const letterY = [68, 67, 67, 1368, 1368, 1368, 2343];
letters.forEach((s, i) => txt(letterX[i], letterY[i], s, { size: 88, bold: true, align: 'left' }));
</script>
</body>
</html>
